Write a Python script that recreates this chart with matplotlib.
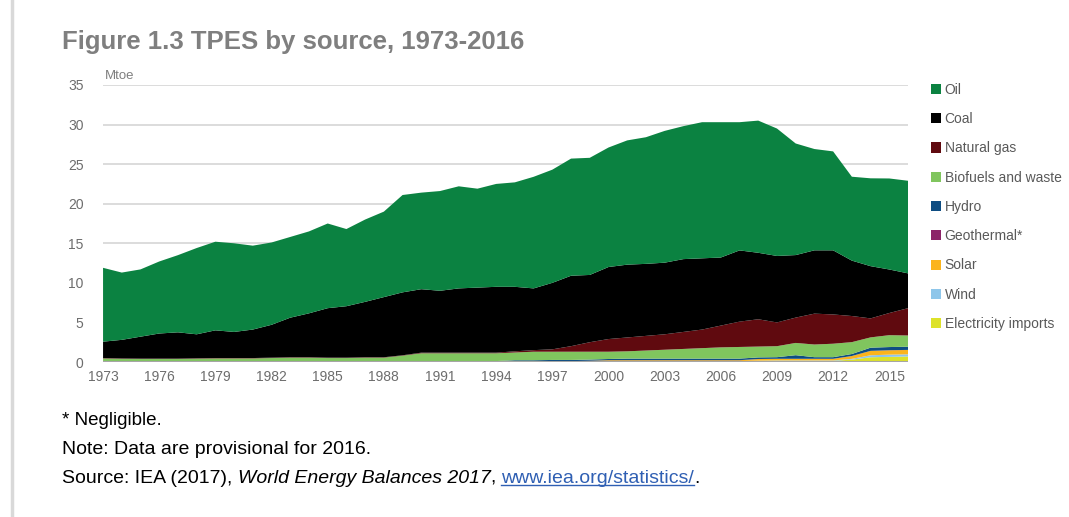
import matplotlib
matplotlib.use("Agg")
import matplotlib.pyplot as plt
from matplotlib.patches import Patch
from matplotlib.lines import Line2D

plt.rcParams['font.family'] = ['Liberation Sans', 'DejaVu Sans']

years = list(range(1973, 2017))

oil = [9.33, 8.5, 8.5, 9.1, 9.75, 10.9, 11.2, 11.2, 10.6, 10.4, 10.2, 10.35, 10.7, 9.75,
       10.4, 10.8, 12.3, 12.2, 12.6, 12.9, 12.5, 13.0, 13.2, 14.1, 14.3, 14.8, 14.8, 15.1,
       15.7, 16.0, 16.65, 16.8, 17.2, 17.1, 16.2, 16.7, 16.1, 14.1, 12.8, 12.5, 10.6, 11.1,
       11.5, 11.7]
coal = [2.07, 2.35, 2.77, 3.17, 3.32, 3.03, 3.5, 3.3, 3.6, 4.15, 5.0, 5.55, 6.25, 6.5,
        7.0, 7.6, 7.95, 8.02, 7.82, 8.12, 8.22, 8.32, 8.15, 7.8, 8.4, 8.9, 8.5, 9.1,
        9.2, 9.1, 9.05, 9.2, 9.0, 8.6, 9.0, 8.4, 8.4, 7.9, 8.0, 8.1, 7.0, 6.6,
        5.5, 4.4]
gas = [0.05, 0.05, 0.05, 0.05, 0.05, 0.05, 0.05, 0.05, 0.05, 0.05, 0.05, 0.05, 0.05, 0.05,
       0.05, 0.05, 0.05, 0.08, 0.08, 0.08, 0.08, 0.08, 0.15, 0.2, 0.3, 0.7, 1.2, 1.6,
       1.75, 1.85, 1.95, 2.15, 2.35, 2.75, 3.2, 3.45, 3.0, 3.2, 3.9, 3.7, 3.3, 2.4,
       2.8, 3.45]
biofuels = [0.36, 0.31, 0.29, 0.29, 0.29, 0.33, 0.36, 0.36, 0.36, 0.41, 0.46, 0.46, 0.41, 0.41,
            0.46, 0.46, 0.71, 0.98, 0.98, 0.98, 0.98, 0.98, 0.98, 1.08, 1.04, 1.04, 0.99, 0.92,
            0.92, 1.02, 1.12, 1.22, 1.32, 1.42, 1.47, 1.37, 1.39, 1.55, 1.6, 1.7, 1.5, 1.3,
            1.5, 1.42]
hydro = [0.05] * 22 + [0.15] * 6 + [0.2] * 9 + [0.45, 0.2, 0.2, 0.25, 0.4, 0.4, 0.4]
geothermal = [0.01] * 44
solar = [0.01] * 24 + [0.05] * 3 + [0.1] * 8 + [0.2] * 5 + [0.35, 0.55, 0.55, 0.55]
wind = [0.0] * 27 + [0.02] * 9 + [0.05] * 4 + [0.1, 0.25, 0.28, 0.27]
elec_imports = [0.02] * 17 + [0.05] * 9 + [0.1] * 9 + [0.15] * 5 + [0.3, 0.6, 0.65, 0.7]

labels = ['Electricity imports', 'Wind', 'Solar', 'Geothermal*', 'Hydro',
          'Biofuels and waste', 'Natural gas', 'Coal', 'Oil']
colors = ['#dde22a', '#8ec6ea', '#fbb41c', '#8c2468', '#0e4d82',
          '#80c55e', '#600a0f', '#000000', '#0b8241']
series = [elec_imports, wind, solar, geothermal, hydro, biofuels, gas, coal, oil]

fig = plt.figure(figsize=(10.69, 5.17), dpi=100)
ax = fig.add_axes([0.0964, 0.2998, 0.7530, 0.5358])

ax.stackplot(years, series, colors=colors, linewidth=0)

ax.set_xlim(1973, 2016)
ax.set_ylim(0, 35)
ax.set_yticks(range(0, 36, 5))
ax.set_xticks(range(1973, 2016, 3))
for y in range(5, 36, 5):
    ax.axhline(y, color='#d9d9d9', lw=1.3, zorder=0)
ax.axhline(0, color='#a6a6a6', lw=1.5, zorder=3)
for s in ax.spines.values():
    s.set_visible(False)
ax.tick_params(length=0, labelsize=10, colors='#6d6d6d', pad=6)
ax.tick_params(axis='y', pad=14)

fig.text(0.098, 0.847, 'Mtoe', fontsize=9.5, color='#7f7f7f')

fig.text(0.058, 0.905, 'Figure 1.3 TPES by source, 1973-2016', fontsize=18.5,
         fontweight='bold', color='#7f7f7f')

handles = [Patch(facecolor=c, edgecolor='none') for c in colors][::-1]
fig.legend(handles, labels[::-1], loc='upper left', bbox_to_anchor=(0.859, 0.864),
           frameon=False, fontsize=10, handlelength=0.75, handleheight=0.75,
           handletextpad=0.25, labelspacing=1.1, labelcolor='#595959')

# left page border
fig.add_artist(Line2D([0.0115, 0.0115], [0, 1], color='#d9d9d9', lw=2.5))

fs = 14
fig.text(0.058, 0.178, '* Negligible.', fontsize=fs - 0.5)
fig.text(0.058, 0.122, 'Note: Data are provisional for 2016.', fontsize=fs)
t1 = fig.text(0.058, 0.066, 'Source: IEA (2017), ', fontsize=fs)
t2 = plt.annotate('World Energy Balances 2017', xy=(1, 0), xycoords=t1, va='bottom',
                  fontsize=fs, fontstyle='italic')
t3 = plt.annotate(', ', xy=(1, 0), xycoords=t2, va='bottom', fontsize=fs)
t4 = plt.annotate('www.iea.org/statistics/', xy=(1, 0), xycoords=t3, va='bottom',
                  fontsize=fs, color='#2f5fb3')
t5 = plt.annotate('.', xy=(1, 0), xycoords=t4, va='bottom', fontsize=fs)

fig.canvas.draw()
bb = t4.get_window_extent().transformed(fig.transFigure.inverted())
fig.add_artist(Line2D([bb.x0, bb.x1], [bb.y0 + 0.004, bb.y0 + 0.004], color='#2f5fb3', lw=1))

fig.savefig('out.png', dpi=100)
